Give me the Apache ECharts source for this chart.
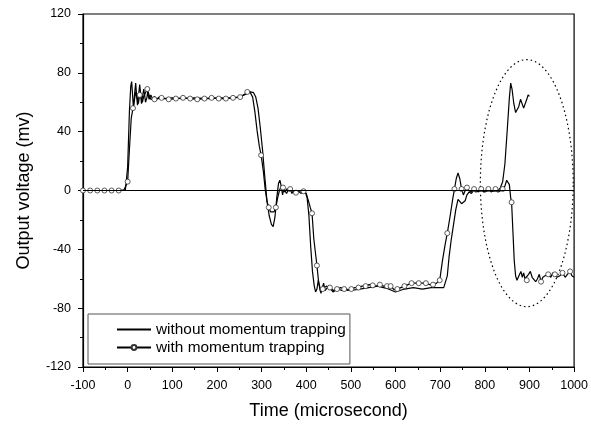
<!DOCTYPE html>
<html>
<head>
<meta charset="utf-8">
<script src="https://cdn.jsdelivr.net/npm/echarts@6/dist/echarts.min.js"></script>
<style>html,body{margin:0;padding:0;background:#fff}#c{width:591px;height:425px}</style>
</head>
<body>
<div id="c"></div>
<script>
// ---- data ----
const seriesNames = ['without momentum trapping', 'with momentum trapping'];
const xTicks = { min: -100, max: 1000, interval: 100 };
const yTicks = { min: -120, max: 120, interval: 40 };

// without momentum trapping: [time, voltage]
const withoutTrap = [
[-100,0],[-10,0],[-5,0.5],[0,16],[4,54],[7,71],[9,74],[11,65],[13,56],[16,67],[18,73],[20,65],[22,58],
[25,66],[27,72],[29,66],[31,59],[34,65],[36,69],[38,65],[40,60],[43,63],[45,67],[48,62],[52,65],[56,62],
[60,64],[65,62],[70,63.5],[80,62.5],[100,63],[120,62.5],[150,63],[180,62.5],[200,63],[230,63],[250,63.5],
[265,65.5],[275,67],[282,66.5],[287,63.5],[292,56],[297,43],[302,28],[307,10],[312,-7],[317,-17],[322,-23],
[326,-24.5],[330,-18],[334,-5],[338,5],[341,7],[344,3],[347,-3],[350,1],[353,2],[356,-2],[359,0],[363,0],
[370,-0.5],[380,0],[390,-0.5],[398,-1],[402,-5],[406,-17],[410,-38],[414,-55],[418,-65],[421,-69],[424,-67],
[427,-61],[430,-65],[433,-70],[436,-66],[439,-63],[442,-68],[446,-69],[450,-65],[455,-67],[460,-69],
[470,-67],[480,-68],[490,-67],[500,-68],[520,-67],[540,-66],[560,-65],[580,-66.5],[600,-69],[620,-67],
[640,-66],[660,-67],[680,-66],[700,-66],[708,-66],[712,-65],[716,-58],[720,-45],[725,-33],[730,-23],
[735,-13],[740,-6],[744,-6],[748,-9],[752,-10],[756,-7],[760,-3],[765,-1],[770,-2],[775,0],[780,-1],
[790,0],[800,-1],[810,0],[820,-0.5],[830,0],[835,2],[840,6],[845,18],[850,40],[855,63],[858,73],[861,69],
[865,59],[869,53],[872,52],[876,57],[880,62],[883,61],[887,56],[890,57],[894,62],[897,65],[900,64]
];

// with momentum trapping: [time, voltage, marker(1/0)]
const withTrap = [
[-100,0,1],[-84,0,1],[-68,0,1],[-52,0,1],[-36,0,1],[-20,0,1],[-8,0.5,0],[0,6,1],[4,28,0],[8,49,0],[12,56,1],
[15,61,0],[18,67,0],[21,63,0],[24,59,0],[27,65,1],[30,63,0],[33,60,0],[36,64,0],[40,65,0],[44,69,1],[48,65,0],
[52,62,0],[60,62,1],[76,63,1],[92,62,1],[108,62.5,1],[124,63,1],[140,62.5,1],[156,62,1],[172,62.5,1],
[188,63,1],[204,62.5,1],[220,62.5,1],[236,63,1],[252,63.5,1],[262,65.5,0],[268,67,1],[274,67,0],
[280,63.5,0],[285,53.5,0],[290,40.5,0],[295,30,0],[299,24,1],[304,13,0],[308,1,0],[312,-7,0],
[316,-11.5,1],[320,-14.5,0],[324,-15.5,0],[328,-14.5,0],[332,-11.5,1],[336,-5,0],[340,0,0],[344,3,0],
[348,2,1],[352,-1,0],[356,1,0],[360,0,0],[364,1,1],[368,-2,0],[372,-0.5,0],[377,-1.5,1],[383,-0.5,0],
[388,-2,0],[394,-0.5,1],[400,-2,0],[404,-6,0],[409,-11.5,0],[413,-15.5,1],[417,-33,0],[424,-51,1],
[428,-63,0],[432,-69,0],[437,-67,1],[445,-65,0],[453,-66,1],[461,-68,0],[469,-67,1],[477,-66,0],
[485,-67,1],[493,-68,0],[501,-67,1],[509,-66,0],[517,-66,1],[525,-65,0],[533,-65,1],[541,-64,0],
[549,-64.5,1],[557,-65,0],[565,-64,1],[573,-65,0],[581,-65,1],[589,-65,1],[597,-67.5,0],[604,-67,1],
[612,-66,0],[620,-65,1],[628,-64,0],[636,-63,1],[644,-63,0],[652,-63,1],[660,-63,0],[668,-63,1],
[676,-64,0],[684,-64,1],[692,-63,0],[699,-61,1],[705,-48,0],[711,-37,0],[716,-29,1],[722,-18,0],
[728,-6,0],[732,1,1],[736,8,0],[740,12,0],[744,8,0],[748,1,1],[752,-3,0],[756,0,0],[760,2,1],[764,0,0],
[770,-1,0],[776,1,1],[780,0,0],[786,-1,0],[792,1,1],[797,-1,0],[802,0,0],[808,1,1],[814,-1,0],[820,0,0],
[824,1,1],[830,-1,0],[836,0,0],[840,1,1],[845,3,0],[849,7,0],[852,8,0],[855,4,0],[858,-5,0],[860,-8,1],
[863,-28,0],[866,-48,0],[869,-58,0],[872,-61,0],[875,-60,0],[878,-57,0],[881,-55,0],[884,-59,0],
[887,-56,0],[890,-60,0],[894,-61,1],[898,-57,0],[902,-55,0],[906,-59,0],[910,-58,0],[914,-62,0],
[918,-60,0],[922,-57,0],[926,-62,1],[930,-59,0],[935,-58,0],[942,-57,1],[948,-59,0],[952,-56,0],
[957,-57,1],[962,-59,0],[968,-58,0],[974,-56,1],[980,-59,0],[985,-57,0],[991,-55,1],[995,-58,0],
[1000,-59,0]
];

// dotted ellipse annotation: [centerTime, centerVoltage, radiusTime, radiusVoltage]
const ellipseNote = [[894, 5, 104, 84]];

// ---- chart ----
const font = 'Liberation Sans, Arial, sans-serif';
const chart = echarts.init(document.getElementById('c'), null, { renderer: 'canvas' });
const axisCommon = {
  type: 'value',
  axisLine: { show: true, onZero: false, lineStyle: { color: '#000', width: 1.2 } },
  axisTick: { show: true, length: 5, lineStyle: { color: '#000', width: 1 } },
  minorTick: { show: true, splitNumber: 2, length: 3, lineStyle: { color: '#000', width: 1 } },
  splitLine: { show: false },
  axisLabel: { color: '#000', fontSize: 12.5, fontFamily: font, formatter: v => String(v) },
  nameLocation: 'middle',
  nameTextStyle: { color: '#000', fontSize: 18, fontFamily: font }
};
chart.setOption({
  animation: false,
  backgroundColor: '#fff',
  grid: { left: 83, right: 15, top: 14, bottom: 58, show: true, borderColor: '#000', borderWidth: 1.2 },
  xAxis: Object.assign({}, axisCommon, {
    min: xTicks.min, max: xTicks.max, interval: xTicks.interval,
    name: 'Time (microsecond)', nameGap: 35,
    axisLabel: Object.assign({}, axisCommon.axisLabel, { margin: 12 })
  }),
  yAxis: Object.assign({}, axisCommon, {
    min: yTicks.min, max: yTicks.max, interval: yTicks.interval,
    name: 'Output voltage (mv)', nameGap: 50,
    axisLabel: Object.assign({}, axisCommon.axisLabel, { margin: 12 })
  }),
  legend: {
    data: [
      { name: seriesNames[0], itemStyle: { opacity: 0 } },
      { name: seriesNames[1] }
    ],
    orient: 'vertical', left: 88, top: 314,
    borderColor: '#555', borderWidth: 1, borderRadius: 0,
    padding: [8, 4, 9, 28], itemWidth: 34, itemHeight: 6, itemGap: 3,
    textStyle: { color: '#000', fontSize: 15.4, fontFamily: font }
  },
  series: [
    {
      name: seriesNames[0], type: 'line', data: withoutTrap, symbol: 'none',
      lineStyle: { color: '#000', width: 1.2 }, itemStyle: { color: '#000' },
      markLine: { silent: true, symbol: 'none', label: { show: false },
        lineStyle: { color: '#000', type: 'solid', width: 1.2 }, data: [{ yAxis: 0 }] },
      z: 3
    },
    {
      name: seriesNames[1], type: 'line', symbol: 'circle', symbolSize: 5, showAllSymbol: true,
      data: withTrap.map(d => ({ value: [d[0], d[1]], symbol: d[2] ? 'circle' : 'none' })),
      lineStyle: { color: '#000', width: 1.2 },
      itemStyle: { color: '#fff', borderColor: '#333', borderWidth: 0.8 },
      z: 4
    },
    {
      name: 'ellipse', type: 'custom', data: ellipseNote, encode: { x: 0, y: 1 }, silent: true, z: 2,
      renderItem: function (params, api) {
        const cx = api.value(0), cy = api.value(1), rx = api.value(2), ry = api.value(3);
        const pts = [];
        for (let i = 0; i <= 120; i++) {
          const a = i / 120 * Math.PI * 2;
          pts.push(api.coord([cx + rx * Math.cos(a), cy + ry * Math.sin(a)]));
        }
        return { type: 'polyline', shape: { points: pts },
          style: { fill: 'none', stroke: '#000', lineWidth: 1.2, lineDash: [1.5, 3] } };
      }
    }
  ]
});
</script>
</body>
</html>
